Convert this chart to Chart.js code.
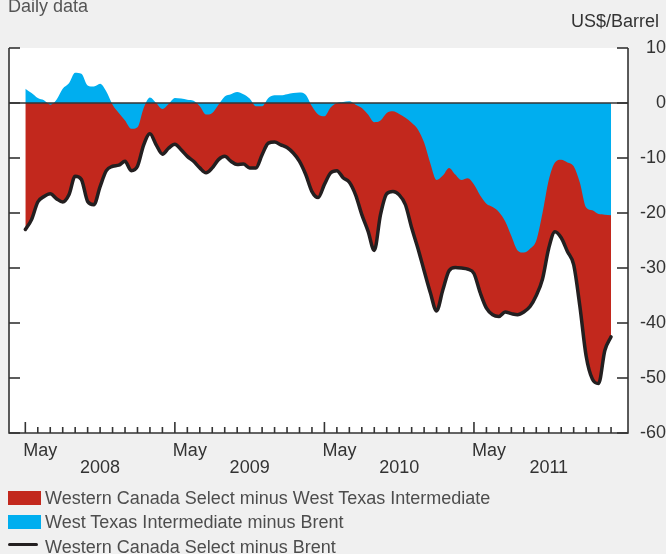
<!DOCTYPE html>
<html>
<head>
<meta charset="utf-8">
<script src="https://cdn.jsdelivr.net/npm/chart.js@4"></script>
<style>
  body { margin: 0; background: #f0f0f0; }
  #wrap { position: relative; width: 666px; height: 554px; overflow: hidden; font-family: 'Liberation Sans', Arial, sans-serif; }
  #chart { position: absolute; left: 0; top: 0; }
  .txt { position: absolute; font-size: 18px; line-height: 18px; color: #4d4d4d; white-space: nowrap; }
  .sw { position: absolute; }
</style>
</head>
<body>
<div id="wrap">
  <canvas id="chart" width="666" height="554"></canvas>
  <div class="txt" style="left:8px;top:-3px;color:#555">Daily data</div>
  <div class="txt" style="right:7px;top:12px;color:#333">US$/Barrel</div>

  <div class="sw" style="left:8px;top:491px;width:33px;height:14px;background:#c2281d"></div>
  <div class="txt" style="left:45px;top:489px">Western Canada Select minus West Texas Intermediate</div>
  <div class="sw" style="left:8px;top:515px;width:33px;height:14px;background:#00aeef"></div>
  <div class="txt" style="left:45px;top:513px">West Texas Intermediate minus Brent</div>
  <div class="sw" style="left:8px;top:543px;width:30px;height:3px;background:#231f20;border-radius:1.5px"></div>
  <div class="txt" style="left:45px;top:537.5px">Western Canada Select minus Brent</div>
</div>
<script>
// months counted from Jan 2008 = 0, sampled every half month
const months = [
  4, 4.5, 5, 5.5, 6, 6.5, 7, 7.5, 8, 8.5, 9, 9.5, 10, 10.5, 11, 11.5,
  12, 12.5, 13, 13.5, 14, 14.5, 15, 15.5, 16, 16.5, 17, 17.5, 18, 18.5, 19, 19.5,
  20, 20.5, 21, 21.5, 22, 22.5, 23, 23.5, 24, 24.5, 25, 25.5, 26, 26.5, 27, 27.5,
  28, 28.5, 29, 29.5, 30, 30.5, 31, 31.5, 32, 32.5, 33, 33.5, 34, 34.5, 35, 35.5,
  36, 36.5, 37, 37.5, 38, 38.5, 39, 39.5, 40, 40.5, 41, 41.5, 42, 42.5, 43, 43.5,
  44, 44.5, 45, 45.5, 46, 46.5, 47, 47.5, 48, 48.5, 49, 49.5, 50, 50.5, 51
];

// Western Canada Select minus Brent (black line)
const wcsBrent = [
  -23.0, -21.2, -18.0, -17.0, -16.5, -17.4, -18.0, -16.7, -13.3, -13.9, -17.9, -18.5, -15.2, -12.3, -11.5, -11.3,
  -10.6, -12.3, -11.5, -7.6, -5.6, -7.6, -9.3, -8.2, -7.5, -8.5, -9.7, -10.6, -11.8, -12.7, -11.8, -10.3,
  -9.7, -10.6, -11.2, -11.1, -11.8, -11.8, -9.4, -7.3, -7.1, -7.6, -8.1, -9.1, -10.6, -13.0, -16.1, -17.2,
  -14.8, -12.7, -12.3, -13.6, -14.4, -16.7, -20.3, -23.3, -26.8, -20.3, -16.5, -16.1, -16.7, -18.5, -22.7, -26.4,
  -30.5, -34.5, -37.8, -34.0, -30.5, -29.9, -30.0, -30.2, -31.0, -34.5, -37.3, -38.5, -38.8, -38.0, -38.3, -38.5,
  -38.0, -37.0, -35.0, -32.0, -26.4, -23.4, -24.5, -27.0, -29.4, -37.0, -46.0, -50.2, -51.0, -45.0, -42.5
];

// West Texas Intermediate minus Brent (blue area)
const wtiBrent = [
  2.6, 1.8, 0.9, 0.5, -0.3, 0.6, 2.6, 3.6, 5.5, 5.3, 3.2, 3.0, 3.5, 2.1, -0.3, -1.8,
  -3.2, -4.7, -4.4, -0.9, 1.0, 0.0, -1.1, -0.2, 0.9, 0.8, 0.6, 0.4, -0.6, -2.1, -1.8, -0.3,
  1.2, 1.6, 2.0, 1.6, 0.8, -0.6, -0.6, 0.9, 1.4, 1.4, 1.6, 1.8, 1.9, 1.5, -0.6, -2.1,
  -2.4, -0.8, 0.0, 0.2, 0.3, -0.3, -0.9, -2.1, -3.5, -3.2, -1.8, -1.5, -2.0, -2.7, -3.6, -4.8,
  -7.2, -11.0, -14.0, -13.2, -11.8, -13.0, -14.0, -13.7, -14.8, -16.8, -18.3, -18.9, -19.8, -21.5, -24.2, -26.8,
  -27.2, -26.5, -25.0, -20.0, -14.0, -10.8, -10.3, -10.8, -11.5, -14.5, -19.0, -19.5, -20.2, -20.3, -20.4
];

const mayTicks = [4, 16, 28, 40];
const yearTicks = [10, 22, 34, 46];
const yearLabels = ['2008', '2009', '2010', '2011'];

const toPoints = arr => months.map((m, i) => ({ x: m, y: arr[i] }));

Chart.defaults.font.family = "'Liberation Sans', Arial, sans-serif";
Chart.defaults.font.size = 18;
Chart.defaults.color = '#333';

// white plot area
const plotBg = {
  id: 'plotBg',
  beforeDraw(chart) {
    const { ctx, chartArea: a } = chart;
    ctx.save();
    ctx.fillStyle = '#fff';
    ctx.fillRect(a.left, a.top, a.right - a.left, a.bottom - a.top);
    ctx.restore();
  }
};

// axis frame, inward tick marks and zero line
const framePlugin = {
  id: 'frame',
  afterDatasetsDraw(chart) {
    const { ctx, chartArea: a, scales } = chart;
    const x = scales.x, y = scales.y;
    ctx.save();
    ctx.strokeStyle = '#333';
    ctx.lineWidth = 1.6;
    const seg = (x1, y1, x2, y2) => { ctx.beginPath(); ctx.moveTo(x1, y1); ctx.lineTo(x2, y2); ctx.stroke(); };

    const y0 = y.getPixelForValue(0);
    seg(a.left, y0, a.right, y0);

    ctx.beginPath();
    ctx.moveTo(a.left, a.top);
    ctx.lineTo(a.left, a.bottom);
    ctx.lineTo(a.right, a.bottom);
    ctx.lineTo(a.right, a.top);
    ctx.stroke();

    y.ticks.forEach(t => {
      const py = y.getPixelForValue(t.value);
      seg(a.left, py, a.left + 11, py);
      seg(a.right - 11, py, a.right, py);
    });

    for (let m = 4; m <= 51; m++) {
      const px = x.getPixelForValue(m);
      const len = (m - 4) % 12 === 0 ? 11 : 6;
      seg(px, a.bottom, px, a.bottom - len);
    }
    ctx.restore();
  }
};

new Chart(document.getElementById('chart'), {
  type: 'line',
  data: {
    datasets: [
      {
        label: 'Western Canada Select minus West Texas Intermediate',
        data: toPoints(wcsBrent),
        backgroundColor: '#c2281d',
        borderWidth: 0,
        fill: 'origin',
        order: 3
      },
      {
        label: 'West Texas Intermediate minus Brent',
        data: toPoints(wtiBrent),
        backgroundColor: '#00aeef',
        borderWidth: 0,
        fill: 'origin',
        order: 2
      },
      {
        label: 'Western Canada Select minus Brent',
        data: toPoints(wcsBrent),
        borderColor: '#231f20',
        borderWidth: 3.5,
        borderCapStyle: 'round',
        borderJoinStyle: 'round',
        fill: false,
        order: 1
      }
    ]
  },
  options: {
    responsive: false,
    animation: false,
    devicePixelRatio: 1,
    cubicInterpolationMode: 'monotone',
    elements: { point: { radius: 0 } },
    layout: { padding: { top: 48, left: 9, right: 0, bottom: 104.4 } },
    plugins: { legend: { display: false }, tooltip: { enabled: false } },
    scales: {
      // mirrored labels are not clipped to the axis box, so the two label rows can sit close together
      x: {
        type: 'linear',
        position: 'bottom',
        min: 2.69,
        max: 52.36,
        grid: { display: false, drawTicks: true, tickLength: 64 },
        border: { display: false },
        afterBuildTicks: s => { s.ticks = mayTicks.map(v => ({ value: v })); },
        ticks: {
          autoSkip: false,
          maxRotation: 0,
          mirror: true,
          align: 'start',
          labelOffset: -2,
          padding: -27.3,
          font: { size: 18, lineHeight: 1 },
          callback: () => 'May'
        }
      },
      x2: {
        type: 'linear',
        position: 'bottom',
        min: 2.69,
        max: 52.36,
        grid: { display: false, drawTicks: true, tickLength: 76 },
        border: { display: false },
        afterBuildTicks: s => { s.ticks = yearTicks.map(v => ({ value: v })); },
        ticks: {
          autoSkip: false,
          maxRotation: 0,
          mirror: true,
          padding: -34.4,
          font: { size: 18, lineHeight: 1 },
          callback: v => yearLabels[yearTicks.indexOf(v)]
        }
      },
      y: {
        position: 'right',
        min: -60,
        max: 10,
        grid: { display: false, drawTicks: false },
        border: { display: false },
        afterFit: s => { s.width = 38; },
        ticks: { stepSize: 10, padding: 0, crossAlign: 'far' }
      }
    }
  },
  plugins: [plotBg, framePlugin]
});
</script>
</body>
</html>
